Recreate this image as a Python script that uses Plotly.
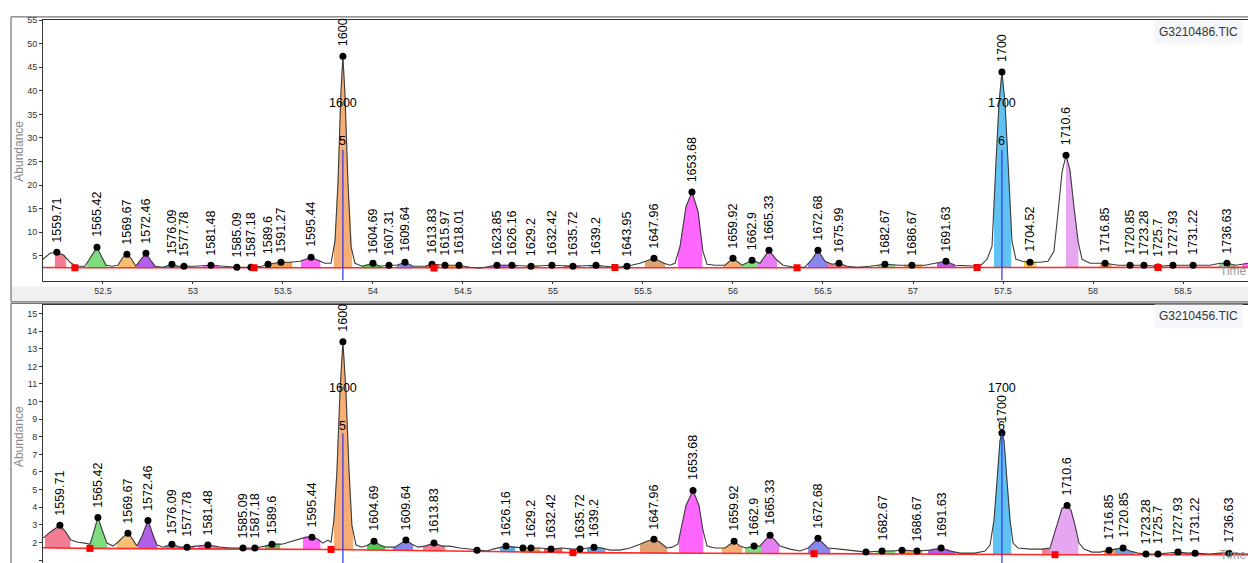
import numpy as np
import plotly.graph_objects as go

W, H = 1248, 563
FONT = "Liberation Sans, Arial, sans-serif"

# ---------------- data : upper chromatogram (G3210486.TIC) ----------------
top_trace_t = [52.167, 52.206, 52.244, 52.283, 52.317, 52.35, 52.4, 52.433, 52.467, 52.494,
               52.517, 52.55, 52.583, 52.611, 52.633, 52.656, 52.683, 52.711, 52.739, 52.761,
               52.789, 52.833, 52.883, 52.917, 52.95, 53.011, 53.1, 53.178, 53.244, 53.322,
               53.383, 53.417, 53.489, 53.539, 53.594, 53.628, 53.656, 53.694, 53.733, 53.767,
               53.789, 53.806, 53.822, 53.833, 53.844, 53.861, 53.878, 53.9, 53.939, 54.0,
               54.039, 54.089, 54.133, 54.178, 54.222, 54.289, 54.328, 54.4, 54.478, 54.539,
               54.594, 54.65, 54.689, 54.772, 54.878, 54.994, 55.111, 55.239, 55.344, 55.411,
               55.483, 55.561, 55.617, 55.65, 55.678, 55.706, 55.739, 55.772, 55.806, 55.833,
               55.856, 55.9, 55.956, 56.0, 56.05, 56.106, 56.15, 56.2, 56.239, 56.278,
               56.344, 56.4, 56.439, 56.472, 56.511, 56.55, 56.589, 56.633, 56.694, 56.761,
               56.844, 56.928, 56.994, 57.067, 57.122, 57.183, 57.233, 57.317, 57.372, 57.411,
               57.439, 57.461, 57.478, 57.494, 57.511, 57.528, 57.55, 57.572, 57.606, 57.65,
               57.706, 57.75, 57.783, 57.806, 57.828, 57.85, 57.872, 57.894, 57.917, 57.939,
               57.983, 58.067, 58.139, 58.206, 58.283, 58.361, 58.444, 58.556, 58.65, 58.706,
               58.744, 58.794, 58.861]
top_trace_a = [4.26, 5.53, 5.74, 5.11, 3.63, 2.79, 2.79, 4.68, 6.79, 4.68,
               3.00, 2.79, 3.00, 4.68, 5.32, 4.47, 2.79, 4.26, 5.53, 4.26,
               2.79, 2.58, 3.21, 2.79, 2.79, 2.79, 3.00, 2.79, 2.58, 2.58,
               2.79, 3.21, 3.63, 3.63, 3.84, 4.26, 4.68, 4.05, 3.42, 3.42,
               8.05, 20.65, 39.56, 47.33, 39.56, 20.65, 7.00, 3.42, 2.79, 3.42,
               2.79, 3.00, 3.00, 3.63, 2.79, 2.79, 3.21, 3.00, 3.00, 2.58,
               2.37, 2.79, 3.00, 3.00, 2.79, 3.00, 2.79, 3.00, 2.58, 2.79,
               3.42, 4.47, 3.42, 3.00, 3.42, 7.00, 15.40, 18.55, 14.35, 5.95,
               3.21, 3.00, 3.00, 4.47, 3.00, 4.05, 3.42, 6.16, 4.26, 3.00,
               2.58, 2.58, 4.26, 6.16, 3.84, 3.21, 3.42, 2.79, 2.58, 2.79,
               3.21, 3.00, 3.00, 3.00, 3.42, 3.84, 3.00, 2.79, 2.79, 4.26,
               7.00, 24.85, 37.46, 43.97, 37.46, 24.85, 8.05, 4.26, 3.84, 3.63,
               3.63, 3.84, 5.95, 14.35, 22.75, 26.32, 23.17, 15.40, 8.05, 4.26,
               3.42, 3.42, 3.00, 3.00, 3.00, 2.79, 3.00, 3.00, 3.00, 3.42,
               3.42, 3.00, 3.42]

top_peak_labels = ["1559.71", "1565.42", "1569.67", "1572.46", "1576.09", "1577.78", "1581.48",
                   "1585.09", "1587.18", "1589.6", "1591.27", "1595.44", "1600", "1604.69",
                   "1607.31", "1609.64", "1613.83", "1615.97", "1618.01", "1623.85", "1626.16",
                   "1629.2", "1632.42", "1635.72", "1639.2", "1643.95", "1647.96", "1653.68",
                   "1659.92", "1662.9", "1665.33", "1672.68", "1675.99", "1682.67", "1686.67",
                   "1691.63", "1700", "1704.52", "1710.6", "1716.85", "1720.85", "1723.28",
                   "1725.7", "1727.93", "1731.22", "1736.63"]
top_peak_t = [52.244, 52.467, 52.633, 52.739, 52.883, 52.95, 53.1, 53.244, 53.322, 53.417,
              53.489, 53.656, 53.833, 54.0, 54.089, 54.178, 54.328, 54.4, 54.478, 54.689,
              54.772, 54.878, 54.994, 55.111, 55.239, 55.411, 55.561, 55.772, 56.0, 56.106,
              56.2, 56.472, 56.589, 56.844, 56.994, 57.183, 57.494, 57.65, 57.85, 58.067,
              58.206, 58.283, 58.361, 58.444, 58.556, 58.744]
top_peak_a = [5.74, 6.79, 5.32, 5.53, 3.21, 2.79, 3.0, 2.58, 2.58, 3.21,
              3.63, 4.68, 47.33, 3.42, 3.0, 3.63, 3.21, 3.0, 3.0, 3.0,
              3.0, 2.79, 3.0, 2.79, 3.0, 2.79, 4.47, 18.55, 4.47, 4.05,
              6.16, 6.16, 3.42, 3.21, 3.0, 3.84, 43.97, 3.63, 26.32, 3.42,
              3.0, 3.0, 2.6, 3.0, 3.0, 3.42]

top_baseline_t = [52.167, 52.344, 53.339, 54.339, 55.344, 56.356, 57.356, 58.361, 58.861]
top_baseline_a = [2.5, 2.45, 2.45, 2.4, 2.5, 2.45, 2.5, 2.5, 2.55]
top_split_t = [52.344, 53.339, 54.339, 55.344, 56.356, 57.356, 58.361]

top_fill_start = [52.233, 52.411, 52.583, 52.689, 52.839, 52.917, 53.056, 53.4, 53.478, 53.6,
                  53.783, 53.939, 54.133, 54.289, 54.4, 54.65, 54.85, 55.06, 55.2, 55.511,
                  55.694, 55.944, 56.05, 56.139, 56.417, 56.528, 56.8, 56.95, 57.133, 57.45,
                  57.617, 57.85, 58.04, 58.7, 58.83]
top_fill_end = [52.294, 52.522, 52.689, 52.8, 52.917, 52.983, 53.144, 53.478, 53.55, 53.706,
                53.883, 54.05, 54.222, 54.367, 54.5, 54.8, 54.92, 55.15, 55.27, 55.622,
                55.828, 56.05, 56.139, 56.244, 56.528, 56.65, 56.9, 57.05, 57.233, 57.544,
                57.683, 57.917, 58.1, 58.79, 58.861]

# ---------------- data : lower chromatogram (G3210456.TIC) ----------------
bottom_trace_t = [52.167, 52.206, 52.261, 52.294, 52.322, 52.361, 52.4, 52.428, 52.444, 52.472,
                  52.5, 52.522, 52.556, 52.583, 52.611, 52.639, 52.661, 52.689, 52.717, 52.75,
                  52.778, 52.8, 52.833, 52.883, 52.928, 52.967, 53.022, 53.083, 53.15, 53.206,
                  53.278, 53.344, 53.4, 53.439, 53.494, 53.55, 53.594, 53.628, 53.661, 53.694,
                  53.722, 53.75, 53.767, 53.783, 53.8, 53.817, 53.833, 53.85, 53.867, 53.883,
                  53.906, 53.939, 53.972, 54.006, 54.039, 54.072, 54.122, 54.15, 54.183, 54.217,
                  54.25, 54.289, 54.339, 54.383, 54.428, 54.483, 54.539, 54.578, 54.633, 54.667,
                  54.706, 54.739, 54.789, 54.833, 54.878, 54.928, 54.989, 55.05, 55.106, 55.15,
                  55.194, 55.228, 55.272, 55.317, 55.372, 55.428, 55.483, 55.522, 55.561, 55.594,
                  55.633, 55.661, 55.694, 55.711, 55.739, 55.778, 55.811, 55.833, 55.856, 55.9,
                  55.956, 55.978, 56.006, 56.039, 56.072, 56.117, 56.15, 56.178, 56.206, 56.233,
                  56.261, 56.317, 56.372, 56.417, 56.444, 56.472, 56.5, 56.528, 56.594, 56.678,
                  56.739, 56.828, 56.883, 56.939, 57.022, 57.094, 57.156, 57.206, 57.261, 57.344,
                  57.4, 57.428, 57.45, 57.467, 57.483, 57.494, 57.506, 57.522, 57.539, 57.556,
                  57.583, 57.65, 57.717, 57.761, 57.783, 57.806, 57.828, 57.856, 57.878, 57.9,
                  57.922, 57.95, 57.994, 58.039, 58.089, 58.122, 58.167, 58.206, 58.25, 58.294,
                  58.361, 58.417, 58.472, 58.522, 58.567, 58.65, 58.706, 58.756, 58.861]
bottom_trace_a = [2.24, 2.58, 2.97, 2.58, 2.13, 2.01, 1.96, 1.90, 2.41, 3.42,
                  2.58, 1.96, 1.79, 2.01, 2.30, 2.52, 2.24, 1.79, 2.35, 3.25,
                  2.41, 1.85, 1.73, 1.90, 1.73, 1.73, 1.79, 1.85, 1.73, 1.68,
                  1.68, 1.68, 1.79, 1.90, 1.90, 2.07, 2.24, 2.30, 2.30, 2.18,
                  1.96, 2.13, 2.01, 3.25, 6.07, 10.58, 13.40, 10.58, 6.07, 2.97,
                  1.85, 1.73, 1.85, 2.07, 1.85, 1.73, 1.73, 1.90, 2.13, 1.90,
                  1.73, 1.79, 1.96, 1.79, 1.79, 1.68, 1.62, 1.56, 1.51, 1.62,
                  1.73, 1.79, 1.73, 1.68, 1.68, 1.68, 1.62, 1.68, 1.62, 1.62,
                  1.68, 1.73, 1.68, 1.56, 1.56, 1.68, 1.90, 2.07, 2.18, 2.01,
                  1.68, 1.73, 1.90, 2.69, 4.10, 4.95, 4.10, 2.69, 1.79, 1.68,
                  1.68, 1.85, 2.07, 1.79, 1.68, 1.79, 1.79, 2.13, 2.41, 2.13,
                  1.79, 1.62, 1.51, 1.68, 1.96, 2.24, 1.96, 1.68, 1.62, 1.51,
                  1.45, 1.51, 1.51, 1.56, 1.51, 1.56, 1.68, 1.51, 1.39, 1.39,
                  1.51, 1.85, 3.25, 5.51, 7.76, 8.22, 7.76, 5.51, 3.25, 1.96,
                  1.68, 1.62, 1.62, 1.68, 2.41, 3.25, 3.93, 4.10, 3.82, 2.97,
                  1.96, 1.62, 1.45, 1.45, 1.56, 1.62, 1.68, 1.51, 1.39, 1.34,
                  1.34, 1.39, 1.45, 1.39, 1.39, 1.34, 1.39, 1.39, 1.34]

bottom_peak_labels = ["1559.71", "1565.42", "1569.67", "1572.46", "1576.09", "1577.78", "1581.48",
                      "1585.09", "1587.18", "1589.6", "1595.44", "1600", "1604.69", "1609.64",
                      "1613.83", "1626.16", "1629.2", "1632.42", "1635.72", "1639.2", "1647.96",
                      "1653.68", "1659.92", "1662.9", "1665.33", "1672.68", "1682.67", "1686.67",
                      "1691.63", "1700", "1710.6", "1716.85", "1720.85", "1723.28", "1725.7",
                      "1727.93", "1731.22", "1736.63"]
bottom_peak_t = [52.261, 52.472, 52.639, 52.75, 52.883, 52.967, 53.083, 53.278, 53.344, 53.439,
                 53.661, 53.833, 54.006, 54.183, 54.339, 54.739, 54.878, 54.989, 55.15, 55.228,
                 55.561, 55.778, 56.006, 56.117, 56.206, 56.472, 56.828, 57.022, 57.156, 57.494,
                 57.856, 58.089, 58.167, 58.294, 58.361, 58.472, 58.567, 58.756]
bottom_peak_a = [2.97, 3.42, 2.52, 3.25, 1.90, 1.73, 1.85, 1.68, 1.68, 1.90,
                 2.30, 13.40, 2.07, 2.13, 1.96, 1.79, 1.68, 1.62, 1.62, 1.73,
                 2.18, 4.95, 2.07, 1.79, 2.41, 2.24, 1.51, 1.51, 1.68, 8.22,
                 4.10, 1.56, 1.68, 1.34, 1.34, 1.45, 1.39, 1.39]
bottom_extra_dot_t = [54.578, 54.833, 56.739, 56.939]
bottom_extra_dot_a = [1.56, 1.68, 1.45, 1.56]

bottom_baseline_t = [52.167, 52.428, 53.767, 55.111, 56.45, 57.789, 58.861]
bottom_baseline_a = [1.70, 1.66, 1.60, 1.42, 1.36, 1.30, 1.30]
bottom_split_t = [52.428, 53.767, 55.111, 56.45, 57.789]

bottom_fill_start = [52.178, 52.417, 52.578, 52.694, 52.844, 52.928, 53.028, 53.4, 53.611, 53.783,
                     53.967, 54.111, 54.278, 54.706, 54.833, 54.95, 55.189, 55.483, 55.7, 55.939,
                     56.067, 56.156, 56.417, 56.794, 56.95, 57.083, 57.444, 57.717, 57.761, 58.061,
                     58.122, 58.44, 58.7]
bottom_fill_end = [52.317, 52.522, 52.689, 52.8, 52.928, 53.011, 53.139, 53.483, 53.706, 53.889,
                   54.067, 54.222, 54.4, 54.789, 54.928, 55.05, 55.289, 55.633, 55.833, 56.05,
                   56.156, 56.256, 56.539, 56.9, 57.05, 57.233, 57.544, 57.761, 57.917, 58.122,
                   58.233, 58.55, 58.8]

# reference (retention index) markers
ref_labels = ["1600", "1700"]
ref_numbers = ["5", "6"]
ref_t = [53.833, 57.494]

x_ticks = [52.5, 53, 53.5, 54, 54.5, 55, 55.5, 56, 56.5, 57, 57.5, 58, 58.5]
x_ticktext = ["52.5", "53", "53.5", "54", "54.5", "55", "55.5", "56", "56.5", "57", "57.5", "58", "58.5"]
top_y_ticks = [5, 10, 15, 20, 25, 30, 35, 40, 45, 50, 55]
bottom_y_ticks = list(range(1, 16))
file_names = ["G3210486.TIC", "G3210456.TIC"]

# ---------------- styles ----------------
PINK, GREEN, ORANGE, PURPLE = "#f27d92", "#7fdc7f", "#f7bf73", "#b35ee8"
BLUE, ORG2, MAG, PEAKOR = "#62a6df", "#f2a254", "#ff66ff", "#f6ae74"
GREEN2, PERI, RED, TAN = "#55c655", "#8787ee", "#ef5a5a", "#dfa373"
VIOLET, SKY, YEL, LAV = "#e77df2", "#5fc2f2", "#f1cc55", "#e7a6f2"
top_fill_colors = [PINK, GREEN, ORANGE, PURPLE, BLUE, ORG2, MAG, ORG2, ORG2, MAG,
                   PEAKOR, GREEN2, PERI, RED, ORG2, PURPLE, ORG2, RED, BLUE, TAN,
                   MAG, PEAKOR, GREEN, VIOLET, PERI, PINK, GREEN, ORG2, PURPLE, SKY,
                   YEL, LAV, ORG2, GREEN, MAG]
bottom_fill_colors = [PINK, GREEN, ORANGE, PURPLE, BLUE, ORG2, MAG, GREEN2, MAG, PEAKOR,
                      GREEN2, PERI, PINK, BLUE, ORG2, RED, BLUE, TAN, MAG, PEAKOR,
                      GREEN, VIOLET, PERI, GREEN, ORG2, PURPLE, SKY, PINK, LAV, ORG2,
                      BLUE, MAG, GREEN]


def P(px):
    return px / W


def Q(py):
    return 1 - py / H


fig = go.Figure()
annotations = []
shapes = []


def add_panel(xa, ya, tt, ta, bt, ba, split_t, fs, fe, fc, lt, la, labels, ex_t, ex_a, y_ref_top, y_num):
    tt = np.array(tt, float)
    ta = np.array(ta, float)
    bt = np.array(bt, float)
    ba = np.array(ba, float)
    # filled peak areas between trace and baseline
    for s, e, c in zip(fs, fe, fc):
        m = (tt > s) & (tt < e)
        xs = [s] + list(tt[m]) + [e, e, s]
        ys = ([float(np.interp(s, tt, ta))] + list(ta[m]) + [float(np.interp(e, tt, ta)),
              float(np.interp(e, bt, ba)), float(np.interp(s, bt, ba))])
        fig.add_trace(go.Scatter(x=xs, y=ys, xaxis=xa, yaxis=ya, mode="lines", fill="toself",
                                 fillcolor=c, line=dict(width=0.6, color=c), hoverinfo="skip",
                                 showlegend=False))
    # baseline
    fig.add_trace(go.Scatter(x=bt, y=ba, xaxis=xa, yaxis=ya, mode="lines",
                             line=dict(color="#ff2a2a", width=1.6), showlegend=False, hoverinfo="skip"))
    # chromatogram trace
    fig.add_trace(go.Scatter(x=tt, y=ta, xaxis=xa, yaxis=ya, mode="lines",
                             line=dict(color="#3c3c3c", width=1.1), showlegend=False))
    # apex dots
    fig.add_trace(go.Scatter(x=list(lt) + list(ex_t), y=list(la) + list(ex_a), xaxis=xa, yaxis=ya,
                             mode="markers", marker=dict(color="black", size=7),
                             showlegend=False))
    # baseline split squares
    fig.add_trace(go.Scatter(x=split_t, y=np.interp(split_t, bt, ba), xaxis=xa, yaxis=ya,
                             mode="markers", marker=dict(color="#ff0000", size=7, symbol="square"),
                             showlegend=False))
    xr = "x" if xa == "x" else "x2"
    yr = "y" if ya == "y" else "y2"
    for lab, t, a in zip(labels, lt, la):
        annotations.append(dict(x=t, y=a, xref=xr, yref=yr, text=lab, textangle=-90,
                                showarrow=False, xanchor="center", yanchor="bottom", yshift=8,
                                font=dict(family=FONT, size=12.5, color="black")))
    for lab, num, t in zip(ref_labels, ref_numbers, ref_t):
        annotations.append(dict(x=t, y=y_ref_top, xref=xr, yref=yr, text=lab, showarrow=False,
                                xanchor="center", yanchor="middle",
                                font=dict(family=FONT, size=12.5, color="black")))
        annotations.append(dict(x=t, y=y_num, xref=xr, yref=yr, text=num, showarrow=False,
                                xanchor="center", yanchor="middle",
                                font=dict(family=FONT, size=12.5, color="black")))


add_panel("x", "y", top_trace_t, top_trace_a, top_baseline_t, top_baseline_a, top_split_t,
          top_fill_start, top_fill_end, top_fill_colors, top_peak_t, top_peak_a, top_peak_labels,
          [], [], 37.4, 29.3)
add_panel("x2", "y2", bottom_trace_t, bottom_trace_a, bottom_baseline_t, bottom_baseline_a,
          bottom_split_t, bottom_fill_start, bottom_fill_end, bottom_fill_colors, bottom_peak_t,
          bottom_peak_a, bottom_peak_labels, bottom_extra_dot_t, bottom_extra_dot_a, 10.75, 8.6)

# reference vertical lines
for t in ref_t:
    shapes.append(dict(type="line", xref="x", yref="y", x0=t, x1=t, y0=-0.25, y1=27.5,
                       line=dict(color="#3030ff", width=1.2)))
    shapes.append(dict(type="line", xref="x2", yref="y2", x0=t, x1=t, y0=0.8, y1=8.2,
                       line=dict(color="#3030ff", width=1.2)))

# window chrome
shapes += [
    dict(type="rect", xref="paper", yref="paper", x0=P(11), x1=P(1248), y0=Q(299), y1=Q(284),
         fillcolor="#f0f0f0", line=dict(width=0), layer="below"),
    dict(type="line", xref="paper", yref="paper", x0=P(11), x1=P(1248), y0=Q(12), y1=Q(12),
         line=dict(color="#555", width=1)),
    dict(type="line", xref="paper", yref="paper", x0=P(11), x1=P(11), y0=Q(12), y1=Q(299),
         line=dict(color="#555", width=1)),
    dict(type="line", xref="paper", yref="paper", x0=P(11), x1=P(1248), y0=Q(299.5), y1=Q(299.5),
         line=dict(color="#555", width=1)),
    dict(type="line", xref="paper", yref="paper", x0=P(11), x1=P(1248), y0=Q(301), y1=Q(301),
         line=dict(color="#555", width=1)),
    dict(type="line", xref="paper", yref="paper", x0=P(11), x1=P(11), y0=Q(301), y1=Q(563),
         line=dict(color="#555", width=1)),
]

for name, py in zip(file_names, [27, 314]):
    annotations.append(dict(x=P(1198), y=Q(py), xref="paper", yref="paper", text=name,
                            showarrow=False, xanchor="center", yanchor="middle",
                            bgcolor="#f5f6fa", borderpad=4,
                            font=dict(family=FONT, size=12, color="#333")))
for py in [268, 555]:
    annotations.append(dict(x=P(1218), y=Q(py), xref="paper", yref="paper", text="Time",
                            showarrow=False, xanchor="left", yanchor="middle",
                            font=dict(family=FONT, size=12, color="#999")))
for py in [148, 436]:
    annotations.append(dict(x=P(19), y=Q(py), xref="paper", yref="paper", text="Abundance",
                            textangle=-90, showarrow=False, xanchor="center", yanchor="middle",
                            font=dict(family=FONT, size=12, color="#888")))

axis_common = dict(showgrid=False, zeroline=False, showline=True, linecolor="#333", linewidth=1)
fig.update_layout(
    width=W, height=H, margin=dict(l=0, r=0, t=0, b=0),
    paper_bgcolor="white", plot_bgcolor="white", showlegend=False,
    font=dict(family=FONT),
    xaxis=dict(domain=[P(43), 1], range=[52.167, 58.861], anchor="y", tickvals=x_ticks,
               ticktext=x_ticktext, ticks="outside", ticklen=2, tickcolor="#333",
               tickfont=dict(size=9, color="#333"), mirror=True, **axis_common),
    yaxis=dict(domain=[Q(278), Q(15)], range=[-0.25, 55.05], anchor="x", tickvals=top_y_ticks,
               ticks="outside", ticklen=3, tickcolor="#333",
               tickfont=dict(size=9, color="#333"), **axis_common),
    xaxis2=dict(domain=[P(43), 1], range=[52.167, 58.861], anchor="y2", showticklabels=False,
                ticks="", mirror=True, **axis_common),
    yaxis2=dict(domain=[0, Q(303)], range=[0.83, 15.47], anchor="x2", tickvals=bottom_y_ticks,
                ticks="outside", ticklen=3, tickcolor="#333",
                tickfont=dict(size=9, color="#333"), **axis_common),
    annotations=annotations, shapes=shapes,
)

fig.write_html("out.html")
